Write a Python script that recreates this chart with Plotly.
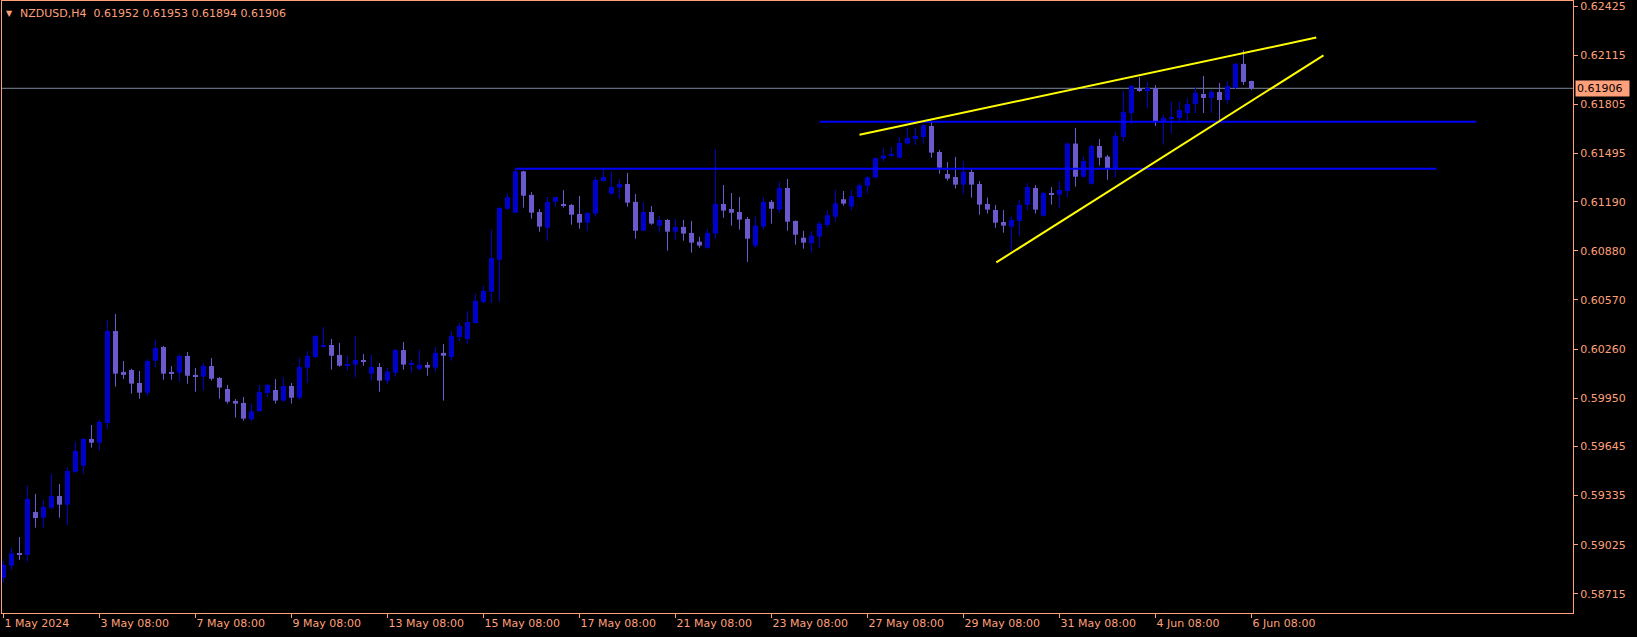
import plotly.graph_objects as go

# ---------------- data (NZDUSD, H4) ----------------
bar_open = [0.58815, 0.58893, 0.58973, 0.58961, 0.59232, 0.59196, 0.59259, 0.59333, 0.59278, 0.59486,
            0.59524, 0.59693, 0.59669, 0.59794, 0.60374, 0.60116, 0.60128, 0.60046, 0.59985, 0.60187,
            0.60273, 0.60116, 0.60111, 0.60217, 0.60097, 0.60086, 0.60153, 0.60078, 0.60008, 0.59933,
            0.59920, 0.59817, 0.59868, 0.59983, 0.60002, 0.59935, 0.60027, 0.59953, 0.60143, 0.60210,
            0.60273, 0.60286, 0.60223, 0.60155, 0.60162, 0.60191, 0.60105, 0.60147, 0.60061, 0.60111,
            0.60254, 0.60160, 0.60135, 0.60160, 0.60143, 0.60236, 0.60210, 0.60337, 0.60324, 0.60425,
            0.60557, 0.60622, 0.60824, 0.61146, 0.61121, 0.61382, 0.61233, 0.61125, 0.61026, 0.61190,
            0.61176, 0.61170, 0.61113, 0.61058, 0.61115, 0.61321, 0.61241, 0.61279, 0.61302, 0.61189,
            0.61007, 0.61125, 0.61039, 0.61075, 0.61001, 0.61031, 0.60993, 0.60938, 0.60900, 0.60989,
            0.61176, 0.61144, 0.61125, 0.61081, 0.60913, 0.61033, 0.61189, 0.61140, 0.61277, 0.61069,
            0.60963, 0.60928, 0.60970, 0.61043, 0.61096, 0.61206, 0.61159, 0.61220, 0.61291, 0.61342,
            0.61462, 0.61481, 0.61468, 0.61557, 0.61586, 0.61599, 0.61668, 0.61504, 0.61365, 0.61346,
            0.61298, 0.61378, 0.61302, 0.61176, 0.61138, 0.61062, 0.61033, 0.61069, 0.61170, 0.61277,
            0.61102, 0.61245, 0.61235, 0.61258, 0.61557, 0.61348, 0.61304, 0.61542, 0.61475, 0.61403,
            0.61599, 0.61750, 0.61908, 0.61889, 0.61908, 0.61700, 0.61712, 0.61719, 0.61750, 0.61807,
            0.61870, 0.61845, 0.61883, 0.61832, 0.61908, 0.62060, 0.61952]

bar_high = [0.58923, 0.59007, 0.59074, 0.59398, 0.59346, 0.59308, 0.59472, 0.59409, 0.59514, 0.59674,
            0.59700, 0.59781, 0.59813, 0.60444, 0.60482, 0.60185, 0.60135, 0.60122, 0.60198, 0.60318,
            0.60280, 0.60153, 0.60229, 0.60242, 0.60141, 0.60172, 0.60204, 0.60084, 0.60034, 0.59945,
            0.59958, 0.59914, 0.60034, 0.60040, 0.60071, 0.60082, 0.60046, 0.60204, 0.60248, 0.60349,
            0.60400, 0.60324, 0.60299, 0.60217, 0.60345, 0.60229, 0.60223, 0.60172, 0.60141, 0.60261,
            0.60305, 0.60191, 0.60254, 0.60179, 0.60273, 0.60292, 0.60374, 0.60425, 0.60501, 0.60608,
            0.60658, 0.61012, 0.61157, 0.61243, 0.61399, 0.61385, 0.61252, 0.61144, 0.61220, 0.61222,
            0.61264, 0.61176, 0.61226, 0.61125, 0.61346, 0.61391, 0.61378, 0.61332, 0.61372, 0.61239,
            0.61189, 0.61163, 0.61100, 0.61081, 0.61081, 0.61075, 0.61069, 0.60970, 0.61020, 0.61523,
            0.61296, 0.61245, 0.61220, 0.61094, 0.61096, 0.61220, 0.61201, 0.61315, 0.61334, 0.61072,
            0.61007, 0.61007, 0.61064, 0.61136, 0.61264, 0.61258, 0.61264, 0.61307, 0.61353, 0.61468,
            0.61529, 0.61536, 0.61599, 0.61656, 0.61656, 0.61681, 0.61700, 0.61517, 0.61441, 0.61473,
            0.61447, 0.61397, 0.61321, 0.61216, 0.61170, 0.61138, 0.61096, 0.61201, 0.61309, 0.61296,
            0.61252, 0.61283, 0.61321, 0.61563, 0.61656, 0.61475, 0.61550, 0.61586, 0.61485, 0.61630,
            0.61889, 0.61927, 0.61978, 0.61946, 0.61927, 0.61738, 0.61820, 0.61820, 0.61845, 0.61914,
            0.61984, 0.61895, 0.61940, 0.61952, 0.62066, 0.62148, 0.61953]

bar_low = [0.58784, 0.58866, 0.58929, 0.58918, 0.59133, 0.59133, 0.59249, 0.59196, 0.59150, 0.59476,
           0.59472, 0.59638, 0.59619, 0.59756, 0.60023, 0.60071, 0.59979, 0.59947, 0.59966, 0.60145,
           0.60067, 0.60067, 0.60054, 0.60042, 0.59991, 0.59998, 0.60061, 0.59947, 0.59916, 0.59827,
           0.59808, 0.59806, 0.59865, 0.59958, 0.59916, 0.59928, 0.59916, 0.59941, 0.60046, 0.60204,
           0.60270, 0.60130, 0.60149, 0.60124, 0.60080, 0.60155, 0.60061, 0.59991, 0.60042, 0.60086,
           0.60130, 0.60111, 0.60124, 0.60092, 0.60118, 0.59935, 0.60187, 0.60311, 0.60294, 0.60422,
           0.60551, 0.60551, 0.60559, 0.61140, 0.61118, 0.61153, 0.61083, 0.61001, 0.60944, 0.61159,
           0.61153, 0.61045, 0.61020, 0.61006, 0.61096, 0.61315, 0.61235, 0.61209, 0.61159, 0.60957,
           0.61004, 0.61045, 0.60995, 0.60881, 0.60951, 0.60944, 0.60869, 0.60900, 0.60890, 0.60957,
           0.61089, 0.61039, 0.61014, 0.60810, 0.60900, 0.61014, 0.61052, 0.61121, 0.61007, 0.60919,
           0.60894, 0.60869, 0.60900, 0.61026, 0.61064, 0.61165, 0.61134, 0.61216, 0.61241, 0.61340,
           0.61443, 0.61475, 0.61465, 0.61550, 0.61548, 0.61557, 0.61468, 0.61367, 0.61323, 0.61273,
           0.61241, 0.61216, 0.61108, 0.61115, 0.61026, 0.60995, 0.60881, 0.60976, 0.61134, 0.61115,
           0.61096, 0.61172, 0.61153, 0.61216, 0.61285, 0.61342, 0.61298, 0.61418, 0.61329, 0.61342,
           0.61569, 0.61681, 0.61883, 0.61782, 0.61668, 0.61550, 0.61620, 0.61700, 0.61700, 0.61750,
           0.61750, 0.61750, 0.61700, 0.61809, 0.61902, 0.61927, 0.61894]

bar_close = [0.58898, 0.58971, 0.58961, 0.59314, 0.59194, 0.59264, 0.59333, 0.59278, 0.59491, 0.59617,
             0.59693, 0.59669, 0.59800, 0.60374, 0.60105, 0.60097, 0.60042, 0.59985, 0.60185, 0.60267,
             0.60105, 0.60105, 0.60217, 0.60092, 0.60086, 0.60153, 0.60073, 0.60017, 0.59928, 0.59916,
             0.59821, 0.59868, 0.59989, 0.60034, 0.59935, 0.60027, 0.59953, 0.60147, 0.60217, 0.60343,
             0.60286, 0.60218, 0.60155, 0.60166, 0.60191, 0.60181, 0.60147, 0.60061, 0.60118, 0.60254,
             0.60162, 0.60168, 0.60160, 0.60143, 0.60236, 0.60218, 0.60343, 0.60406, 0.60431, 0.60564,
             0.60627, 0.60835, 0.61151, 0.61218, 0.61382, 0.61228, 0.61121, 0.61033, 0.61189, 0.61220,
             0.61163, 0.61108, 0.61058, 0.61119, 0.61327, 0.61346, 0.61283, 0.61302, 0.61184, 0.61007,
             0.61125, 0.61052, 0.61075, 0.61001, 0.61031, 0.60989, 0.60932, 0.60913, 0.60993, 0.61176,
             0.61134, 0.61121, 0.61077, 0.60957, 0.61039, 0.61189, 0.61146, 0.61277, 0.61064, 0.60982,
             0.60932, 0.60976, 0.61052, 0.61105, 0.61180, 0.61178, 0.61225, 0.61294, 0.61344, 0.61466,
             0.61481, 0.61492, 0.61561, 0.61593, 0.61605, 0.61673, 0.61500, 0.61405, 0.61336, 0.61298,
             0.61378, 0.61298, 0.61172, 0.61140, 0.61058, 0.61039, 0.61075, 0.61170, 0.61283, 0.61140,
             0.61245, 0.61235, 0.61264, 0.61557, 0.61348, 0.61447, 0.61542, 0.61468, 0.61403, 0.61605,
             0.61757, 0.61921, 0.61889, 0.61908, 0.61700, 0.61719, 0.61725, 0.61769, 0.61807, 0.61877,
             0.61845, 0.61883, 0.61832, 0.61921, 0.62060, 0.61946, 0.61906]

date_labels = ["1 May 2024", "3 May 08:00", "7 May 08:00", "9 May 08:00", "13 May 08:00",
               "15 May 08:00", "17 May 08:00", "21 May 08:00", "23 May 08:00", "27 May 08:00",
               "29 May 08:00", "31 May 08:00", "4 Jun 08:00", "6 Jun 08:00"]
price_labels = ["0.62425", "0.62115", "0.61805", "0.61495", "0.61190", "0.60880", "0.60570",
                "0.60260", "0.59950", "0.59645", "0.59335", "0.59025", "0.58715"]

# drawn objects (bar index, price)
upper_trend_x = [107.0, 164.1]
upper_trend_y = [0.61613, 0.62226]
lower_trend_x = [124.1, 165.0]
lower_trend_y = [0.60807, 0.62114]
level1_x = [102, 184.1]
level1_y = [0.61695, 0.61695]
level2_x = [64, 179.1]
level2_y = [0.61399, 0.61399]

title_text = "NZDUSD,H4\u00a0\u00a00.61952 0.61953 0.61894 0.61906"
bid_price = 0.61906

# ---------------- styling ----------------
FG = "#FFA07A"
BULL = "#0000CD"
BEAR = "#6A5ACD"
FONT = "DejaVu Sans"

n = len(bar_open)
idx = list(range(n))

fig = go.Figure()

for is_bull, col in ((True, BULL), (False, BEAR)):
    wx, wy = [], []
    bx, bbase, bh = [], [], []
    for i in idx:
        o, h, l, c = bar_open[i], bar_high[i], bar_low[i], bar_close[i]
        if (c > o) != is_bull:
            continue
        wx += [i, i, None]
        wy += [l, h, None]
        bx.append(i)
        bbase.append(min(o, c))
        bh.append(max(abs(c - o), 0.000018))
    fig.add_trace(go.Scatter(x=wx, y=wy, mode="lines", line=dict(color=col, width=1),
                             hoverinfo="skip", connectgaps=False))
    fig.add_trace(go.Bar(x=bx, y=bh, base=bbase, width=0.625, marker=dict(color=col, line=dict(width=0)),
                         hoverinfo="skip"))

for xs, ys, col in ((level2_x, level2_y, "#0000FF"), (level1_x, level1_y, "#0000FF"),
                    (upper_trend_x, upper_trend_y, "#FFFF00"), (lower_trend_x, lower_trend_y, "#FFFF00")):
    fig.add_trace(go.Scatter(x=xs, y=ys, mode="lines", line=dict(color=col, width=2), hoverinfo="skip"))

fig.add_shape(type="line", xref="paper", x0=0, x1=1, yref="y", y0=bid_price, y1=bid_price,
              line=dict(color="#778899", width=1), layer="below")

fig.update_layout(
    template="none",
    width=1637, height=637,
    margin=dict(l=2, r=64, t=1, b=24, autoexpand=False),
    paper_bgcolor="black", plot_bgcolor="black",
    showlegend=False, barmode="overlay",
    font=dict(family=FONT, size=11, color=FG),
    xaxis=dict(range=[-0.1875, 196.1875], showgrid=False, zeroline=False, automargin=False,
               tickvals=list(range(0, n, 12)), ticktext=date_labels,
               ticks="outside", ticklen=4, tickcolor=FG, tickwidth=1,
               ticklabelposition="outside right", ticklabeloverflow="allow",
               tickfont=dict(family=FONT, size=11, color=FG),
               showline=True, mirror=True, linecolor=FG, linewidth=1),
    yaxis=dict(range=[0.585943, 0.62457], side="right", showgrid=False, zeroline=False, automargin=False,
               tickvals=[float(v) for v in price_labels], ticktext=price_labels,
               ticks="outside", ticklen=4, tickcolor=FG, tickwidth=1,
               ticklabeloverflow="allow",
               tickfont=dict(family=FONT, size=11, color=FG),
               showline=True, mirror=True, linecolor=FG, linewidth=1),
)

fig.add_annotation(xref="paper", yref="paper", x=0, y=1, xanchor="left", yanchor="top",
                   text="\u25BC", showarrow=False, font=dict(family=FONT, size=8, color=FG),
                   xshift=2, yshift=-6)
fig.add_annotation(xref="paper", yref="paper", x=0, y=1, xanchor="left", yanchor="top",
                   text=title_text, showarrow=False, font=dict(family=FONT, size=11, color=FG),
                   xshift=16, yshift=-4)
fig.add_annotation(xref="paper", yref="y", x=1, y=bid_price, xanchor="left", yanchor="middle",
                   text="0.61906", showarrow=False, font=dict(family=FONT, size=11, color="black"),
                   bgcolor=FG, borderpad=1, width=51, align="left", xshift=2)

fig.write_html("out.html",
               config={"displayModeBar": False},
               post_script="document.body.style.margin='0';document.body.style.padding='0';"
                           "document.body.style.background='black';")
